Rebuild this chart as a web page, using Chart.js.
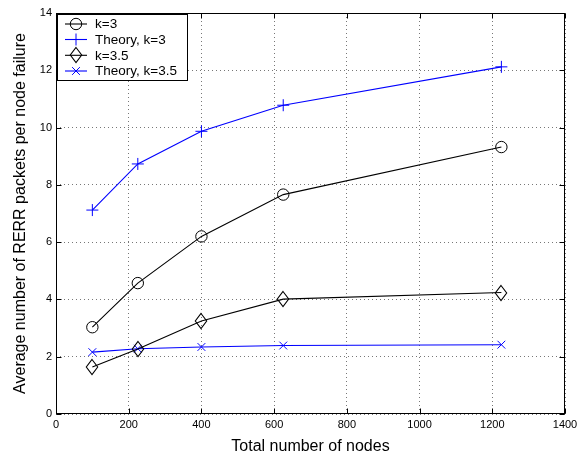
<!DOCTYPE html>
<html><head><meta charset="utf-8">
<script src="https://cdn.jsdelivr.net/npm/chart.js@4/dist/chart.umd.min.js"></script>
<style>html,body{margin:0;padding:0;background:#fff}#wrap{width:584px;height:456px}</style>
</head><body><div id="wrap"><canvas id="c" width="584" height="456"></canvas></div>
<script>
const nodeCounts = [100, 225, 400, 625, 1225];
const simK3 = [3.03, 4.57, 6.2, 7.66, 9.32];
const theoryK3 = [7.12, 8.73, 9.87, 10.78, 12.12];
const simK35 = [1.64, 2.27, 3.25, 4.01, 4.24];
const theoryK35 = [2.16, 2.28, 2.34, 2.39, 2.42];
const seriesLabels = ['k=3', 'Theory, k=3', 'k=3.5', 'Theory, k=3.5'];
const xTicks = [0, 200, 400, 600, 800, 1000, 1200, 1400];
const yTicks = [0, 2, 4, 6, 8, 10, 12, 14];
const xTitle = 'Total number of nodes';
const yTitle = 'Average number of RERR packets per node failure';

const FONT = '"Liberation Sans", Arial, Helvetica, sans-serif';
const BLUE = '#0000ff';

function makeDiamond() {
  const cv = document.createElement('canvas');
  cv.width = 14; cv.height = 18;
  const g = cv.getContext('2d');
  g.strokeStyle = '#000'; g.lineWidth = 1.1;
  g.beginPath();
  g.moveTo(7, 1.5); g.lineTo(12.7, 9); g.lineTo(7, 16.5); g.lineTo(1.3, 9); g.closePath();
  g.stroke();
  return cv;
}
const diamond = makeDiamond();

const pts = ys => nodeCounts.map((x, i) => ({x, y: ys[i]}));

const styles = [
  {color: '#000', pointStyle: 'circle', radius: 5.7},
  {color: BLUE, pointStyle: 'cross', radius: 6},
  {color: '#000', pointStyle: diamond, radius: 7},
  {color: BLUE, pointStyle: 'crossRot', radius: 5.5}
];
const series = [simK3, theoryK3, simK35, theoryK35];

const datasets = series.map((ys, i) => ({
  label: seriesLabels[i],
  data: pts(ys),
  borderColor: styles[i].color,
  backgroundColor: 'rgba(0,0,0,0)',
  borderWidth: 1.1,
  pointStyle: styles[i].pointStyle,
  pointRadius: styles[i].radius,
  pointBorderColor: styles[i].color,
  pointBackgroundColor: 'rgba(0,0,0,0)',
  pointBorderWidth: 1,
  tension: 0,
  clip: false
}));

function drawMarker(ctx, st, x, y) {
  ctx.save();
  ctx.strokeStyle = st.color; ctx.lineWidth = 1;
  const r = st.radius;
  ctx.beginPath();
  if (st.pointStyle === 'circle') {
    ctx.arc(x, y, r, 0, Math.PI * 2);
  } else if (st.pointStyle === 'cross') {
    ctx.moveTo(x - r, y); ctx.lineTo(x + r, y);
    ctx.moveTo(x, y - r); ctx.lineTo(x, y + r);
  } else if (st.pointStyle === 'crossRot') {
    const o = r * Math.SQRT1_2;
    ctx.moveTo(x - o, y - o); ctx.lineTo(x + o, y + o);
    ctx.moveTo(x - o, y + o); ctx.lineTo(x + o, y - o);
  } else {
    ctx.drawImage(st.pointStyle, Math.round(x - st.pointStyle.width / 2), Math.round(y - st.pointStyle.height / 2));
  }
  ctx.stroke();
  ctx.restore();
}

const crispPlugin = {
  id: 'crisp',
  beforeDatasetsDraw(chart) { chart.ctx.imageSmoothingEnabled = false; },
  afterDatasetsDraw(chart) { chart.ctx.imageSmoothingEnabled = true; }
};

const boxPlugin = {
  id: 'box',
  afterDatasetsDraw(chart) {
    const {ctx, chartArea: a, scales} = chart;
    const L = Math.round(a.left) + 0.5, R = Math.round(a.right) - 0.5;
    const T = Math.round(a.top) + 0.5, B = Math.round(a.bottom) - 0.5;
    ctx.save();
    ctx.strokeStyle = '#000'; ctx.lineWidth = 1;
    ctx.strokeRect(L, T, R - L, B - T);
    ctx.beginPath();
    const tl = 5;
    xTicks.forEach(v => {
      const px = Math.round(scales.x.getPixelForValue(v)) + 0.5;
      ctx.moveTo(px, B); ctx.lineTo(px, B - tl);
      ctx.moveTo(px, T); ctx.lineTo(px, T + tl);
    });
    yTicks.forEach(v => {
      const py = Math.round(scales.y.getPixelForValue(v)) + 0.5;
      ctx.moveTo(L, py); ctx.lineTo(L + tl, py);
      ctx.moveTo(R, py); ctx.lineTo(R - tl, py);
    });
    ctx.stroke();

    // legend
    const lx = L + 1, ly = T + 1, lw = 130, lh = 66;
    ctx.fillStyle = '#fff';
    ctx.fillRect(lx, ly, lw, lh);
    ctx.strokeStyle = '#000';
    ctx.strokeRect(lx, ly, lw, lh);
    ctx.font = '13.5px ' + FONT;
    ctx.textBaseline = 'middle';
    ctx.textAlign = 'left';
    const rowY = [24, 39.5, 55.3, 71];
    seriesLabels.forEach((lab, i) => {
      const y = rowY[i];
      const st = styles[i];
      ctx.strokeStyle = st.color; ctx.lineWidth = 1.1;
      ctx.beginPath(); ctx.moveTo(65, y); ctx.lineTo(87, y); ctx.stroke();
      drawMarker(ctx, st, 76, y);
      ctx.fillStyle = '#000';
      ctx.fillText(lab, 95, y + 0.5);
    });
    ctx.restore();
  }
};

const gridOpts = {color: '#777', lineWidth: 1, drawTicks: false, borderDash: [1, 3]};
const borderOpts = {display: false, dash: [1, 3]};

new Chart(document.getElementById('c'), {
  type: 'line',
  data: {datasets},
  options: {
    responsive: false,
    animation: false,
    devicePixelRatio: 1,
    layout: {padding: {top: 13, right: 19, left: 0, bottom: 0}},
    plugins: {legend: {display: false}, tooltip: {enabled: false}},
    scales: {
      x: {
        type: 'linear', min: 0, max: 1400,
        afterBuildTicks: s => { s.ticks = xTicks.map(v => ({value: v})); },
        afterFit: s => { s.height = 42; },
        ticks: {color: '#000', font: {family: FONT, size: 11}, padding: 4, maxRotation: 0, autoSkip: false, callback: v => String(v)},
        grid: gridOpts,
        border: borderOpts,
        title: {display: true, text: xTitle, color: '#000', font: {family: FONT, size: 16}, padding: {top: 0, bottom: 0}}
      },
      y: {
        type: 'linear', min: 0, max: 14,
        afterBuildTicks: s => { s.ticks = yTicks.map(v => ({value: v})); },
        afterFit: s => { s.width = 56; },
        ticks: {color: '#000', font: {family: FONT, size: 11}, padding: 4, autoSkip: false, callback: v => String(v)},
        grid: gridOpts,
        border: borderOpts,
        title: {display: true, text: yTitle, color: '#000', font: {family: FONT, size: 16}, padding: {top: 11, bottom: 0}}
      }
    }
  },
  plugins: [crispPlugin, boxPlugin]
});
</script></body></html>
